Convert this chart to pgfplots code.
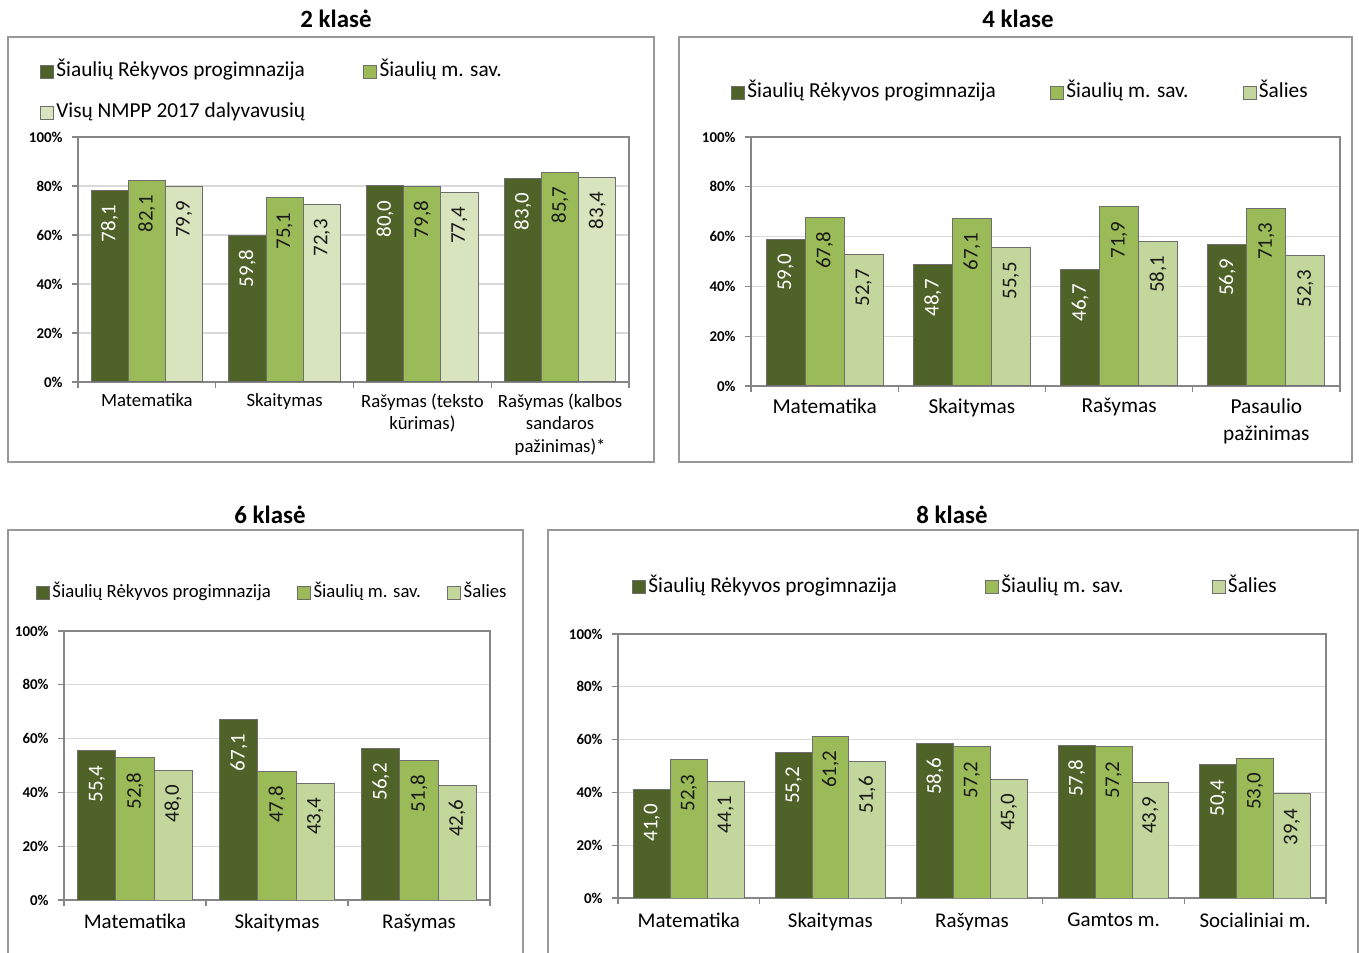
\documentclass[border=0pt]{standalone}
\usepackage{fontspec}
\setmainfont{Carlito}
\usepackage{pgfplots}
\pgfplotsset{compat=1.18}
\definecolor{cDark}{HTML}{4F6228}
\definecolor{cMid}{HTML}{9BBB59}
\definecolor{cLightA}{HTML}{D7E4BD}
\definecolor{cLightB}{HTML}{C3D69B}
\definecolor{axgray}{HTML}{868686}
\definecolor{gridgray}{HTML}{D9D9D9}
\definecolor{framegray}{HTML}{999999}
\definecolor{bordergray}{HTML}{6E6E6E}
\definecolor{labeltext}{HTML}{1A1A1A}

\pgfplotsset{
  sqlegend/.style={legend image code/.code={\draw[##1,draw=bordergray,line width=0.5bp] (0bp,-3.25bp) rectangle (6.5bp,3.25bp);}},
  barstyle/.style={fill=#1, draw=bordergray, line width=0.5bp, sqlegend},
  panel/.style={
    ybar=0pt,
    scale only axis,
    anchor=south west,
    ymin=0, ymax=100,
    enlargelimits=false,
    ytick={0,20,40,60,80,100},
    yticklabels={0\%,20\%,40\%,60\%,80\%,100\%},
    ymajorgrids,
    major grid style={draw=gridgray,line width=0.6bp},
    axis line style={draw=axgray,line width=0.6bp},
    tick style={draw=axgray,line width=0.6bp},
    tick align=outside,
    major tick length=3bp,
    xtick pos=left, ytick pos=left,
    yticklabel style={font=\fontsize{7.5}{9}\selectfont\bfseries, inner sep=0pt, xshift=-4.5bp, text=black},
    xticklabel={\mbox{}},
    extra x tick style={major tick length=0pt, grid=none, xticklabel style={align=center, anchor=north, inner sep=0pt, text=black}},
    nodes near coords,
    every node near coord/.append style={rotate=90, anchor=east, inner xsep=7bp, inner ysep=0pt, font=\fontsize{10.5}{12}\selectfont, text=labeltext},
    /pgf/number format/fixed,
    /pgf/number format/fixed zerofill,
    /pgf/number format/precision=1,
    /pgf/number format/use comma,
    /pgf/number format/assume math mode=true,
    legend cell align=left,
    legend style={draw=none, fill=none, inner sep=0pt, outer sep=0pt, anchor=west, nodes={inner sep=1.2bp, text height=7.5bp, text depth=2.5bp}},
  },
}

\begin{document}
\begin{tikzpicture}
\useasboundingbox (0,0) rectangle (679.5bp,476.5bp);

% frames
\draw[framegray, line width=0.75bp] (4bp,245.5bp) rectangle (327bp,458bp);
\draw[framegray, line width=0.75bp] (339.5bp,245.5bp) rectangle (676bp,458bp);
\draw[framegray, line width=0.75bp] (4bp,-2bp) -- (4bp,211.5bp) -- (261.5bp,211.5bp) -- (261.5bp,-2bp);
\draw[framegray, line width=0.75bp] (274bp,-2bp) -- (274bp,211.5bp) -- (679bp,211.5bp) -- (679bp,-2bp);

% titles
\node[anchor=base, font=\fontsize{12.5}{14}\selectfont\bfseries] at (168bp,462.5bp) {2 klasė};
\node[anchor=base, font=\fontsize{12.5}{14}\selectfont\bfseries] at (509bp,462.5bp) {4 klase};
\node[anchor=base, font=\fontsize{12.5}{14}\selectfont\bfseries] at (135bp,214.5bp) {6 klasė};
\node[anchor=base, font=\fontsize{12.5}{14}\selectfont\bfseries] at (476bp,214.5bp) {8 klasė};

% ---- 2 klase
\begin{axis}[panel, at={(39bp,285.5bp)}, width=275.5bp, height=122.5bp,
  xmin=-0.5, xmax=3.5, xtick={-0.5,0.5,1.5,2.5,3.5},
  extra x ticks={0,1,2,3},
  extra x tick labels={Matematika, Skaitymas, {Rašymas (teksto\\kūrimas)}, {Rašymas (kalbos\\sandaros\\pažinimas)*}},
  extra x tick style={xticklabel style={font=\fontsize{9.4}{11.5}\selectfont, yshift=-5.5bp}},
  bar width=0.27,
  legend columns=2,
  legend style={at={(-0.069,1.1836)}, font=\fontsize{10.7}{13}\selectfont, row sep=8.1bp, /tikz/every even column/.append style={column sep=27.8bp}},
]
\addplot[barstyle=cDark, every node near coord/.append style={text=white}] coordinates {(0,78.1) (1,59.8) (2,80.0) (3,83.0)};
\addplot[barstyle=cMid] coordinates {(0,82.1) (1,75.1) (2,79.8) (3,85.7)};
\addplot[barstyle=cLightA] coordinates {(0,79.9) (1,72.3) (2,77.4) (3,83.4)};
\legend{Šiaulių Rėkyvos progimnazija, Šiaulių m. sav., Visų NMPP 2017 dalyvavusių}
\end{axis}

% ---- 4 klase
\begin{axis}[panel, at={(375.5bp,283.5bp)}, width=294.5bp, height=124.5bp,
  xmin=-0.5, xmax=3.5, xtick={-0.5,0.5,1.5,2.5,3.5},
  extra x ticks={0,1,2,3},
  extra x tick labels={Matematika, Skaitymas, Rašymas, {Pasaulio\\pažinimas}},
  extra x tick style={xticklabel style={font=\fontsize{10.7}{13.5}\selectfont, yshift=-6bp}},
  bar width=0.265,
  legend columns=3,
  legend style={at={(-0.034,1.1767)}, font=\fontsize{10.7}{13}\selectfont, /tikz/every even column/.append style={column sep=25.8bp}},
]
\addplot[barstyle=cDark, every node near coord/.append style={text=white}] coordinates {(0,59.0) (1,48.7) (2,46.7) (3,56.9)};
\addplot[barstyle=cMid] coordinates {(0,67.8) (1,67.1) (2,71.9) (3,71.3)};
\addplot[barstyle=cLightB] coordinates {(0,52.7) (1,55.5) (2,58.1) (3,52.3)};
\legend{Šiaulių Rėkyvos progimnazija, Šiaulių m. sav., Šalies}
\end{axis}

% ---- 6 klase
\begin{axis}[panel, at={(32bp,26.5bp)}, width=213bp, height=134.5bp,
  xmin=-0.5, xmax=2.5, xtick={-0.5,0.5,1.5,2.5},
  extra x ticks={0,1,2},
  extra x tick labels={Matematika, Skaitymas, Rašymas},
  extra x tick style={xticklabel style={font=\fontsize{10.5}{13}\selectfont, yshift=-7bp}},
  bar width=0.268,
  legend columns=3,
  legend style={at={(-0.0657,1.1413)}, font=\fontsize{9.4}{11}\selectfont, /tikz/every even column/.append style={column sep=12bp}},
]
\addplot[barstyle=cDark, every node near coord/.append style={text=white}] coordinates {(0,55.4) (1,67.1) (2,56.2)};
\addplot[barstyle=cMid] coordinates {(0,52.8) (1,47.8) (2,51.8)};
\addplot[barstyle=cLightB] coordinates {(0,48.0) (1,43.4) (2,42.6)};
\legend{Šiaulių Rėkyvos progimnazija, Šiaulių m. sav., Šalies}
\end{axis}

% ---- 8 klase
\begin{axis}[panel, at={(309bp,27.5bp)}, width=354bp, height=132bp,
  xmin=-0.5, xmax=4.5, xtick={-0.5,0.5,1.5,2.5,3.5,4.5},
  extra x ticks={0,1,2,3,4},
  extra x tick labels={Matematika, Skaitymas, Rašymas, Gamtos m., Socialiniai m.},
  extra x tick style={xticklabel style={font=\fontsize{10.5}{13}\selectfont, yshift=-7.5bp}},
  bar width=0.26,
  legend columns=3,
  legend style={at={(0.0198,1.178)}, font=\fontsize{10.7}{13}\selectfont, /tikz/every even column/.append style={column sep=42.8bp}},
]
\addplot[barstyle=cDark, every node near coord/.append style={text=white}] coordinates {(0,41.0) (1,55.2) (2,58.6) (3,57.8) (4,50.4)};
\addplot[barstyle=cMid] coordinates {(0,52.3) (1,61.2) (2,57.2) (3,57.2) (4,53.0)};
\addplot[barstyle=cLightB] coordinates {(0,44.1) (1,51.6) (2,45.0) (3,43.9) (4,39.4)};
\legend{Šiaulių Rėkyvos progimnazija, Šiaulių m. sav., Šalies}
\end{axis}
\end{tikzpicture}
\end{document}
